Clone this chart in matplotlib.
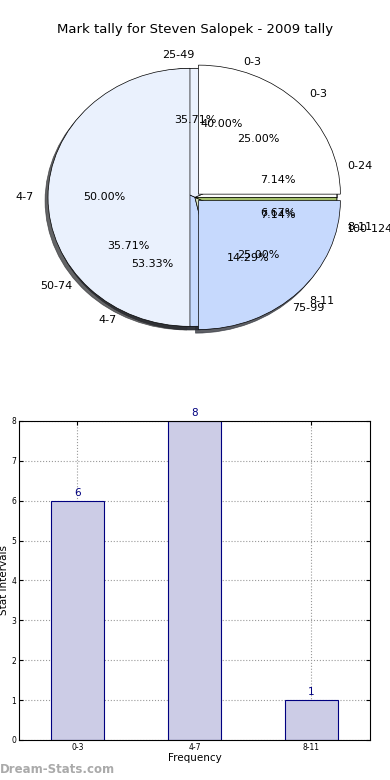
import matplotlib.pyplot as plt

title = "Mark tally for Steven Salopek - 2009 tally"

# pie 1: marks tally (counts)
tally_labels = ["0-3", "4-7", "8-11"]
tally_counts = [6, 8, 1]

# pie 2: score ranges
range_labels = ["0-24", "25-49", "50-74", "75-99", "100-124"]
range_counts = [1, 5, 5, 2, 1]

# pie 3: drawn on top, exploded
top_labels = ["0-3", "4-7", "8-11"]
top_counts = [1, 2, 1]

# bar chart
bar_labels = ["0-3", "4-7", "8-11"]
bar_values = [6, 8, 1]

colors = ["#ffffff", "#eaf1fd", "#c6d9fd", "#d9e4c0", "#a3bf6a"]

plt.rcParams["font.family"] = "DejaVu Sans"

fig = plt.figure(figsize=(3.9, 7.8), dpi=100)

# --- pie chart ---
ax = fig.add_axes([0.0103, 0.527, 0.979, 0.44])
ax.axis("off")

pie_kw = dict(autopct="%1.2f%%", startangle=0, counterclock=True,
              shadow={"ox": -0.015, "oy": -0.02, "shade": 0.8, "alpha": 0.75},
              labeldistance=1.1, pctdistance=0.6,
              textprops=dict(fontsize=8),
              wedgeprops=dict(edgecolor="black", linewidth=0.5))

ax.pie(tally_counts, labels=tally_labels, colors=colors[:3], **pie_kw)
ax.pie(range_counts, labels=range_labels, colors=colors, **pie_kw)
ax.pie(top_counts, labels=top_labels, colors=colors[:3],
       explode=[0.035] * len(top_counts), **pie_kw)
ax.set_xlim(-1.345, 1.345)
ax.set_ylim(-1.33, 1.33)
ax.set_aspect("auto")

fig.text(0.5, 1 - 30 / 780, title, ha="center", va="center", fontsize=9.5)

# --- bar chart ---
bx = fig.add_axes([0.0487, 0.0513, 0.9, 0.409])
x = list(range(len(bar_labels)))
bx.bar(x, bar_values, width=0.45, color="#cccce6",
       edgecolor="#000080", linewidth=0.8, zorder=2)
for xi, v in zip(x, bar_values):
    bx.text(xi, v + 0.08, str(v), ha="center", va="bottom",
            color="#000080", fontsize=7.5)
bx.set_xlim(-0.5, 2.5)
bx.set_ylim(0, 8)
bx.set_xticks(x)
bx.set_xticklabels(bar_labels, fontsize=5.5)
bx.set_yticks(range(0, 9))
bx.tick_params(axis="y", labelsize=5.5)
bx.tick_params(direction="in", top=True, right=True, length=3, pad=2)
bx.grid(True, linestyle=":", color="#999999", linewidth=0.8, zorder=0)
bx.set_axisbelow(True)
bx.set_xlabel("Frequency", fontsize=7.5, labelpad=1)
bx.set_ylabel("Stat Intervals", fontsize=7.5, labelpad=2)

fig.text(0.0, 4 / 780, "Dream-Stats.com", fontsize=8.5, color="#aaaaaa",
         fontweight="bold", ha="left", va="bottom")

fig.savefig("out.png", dpi=100)
